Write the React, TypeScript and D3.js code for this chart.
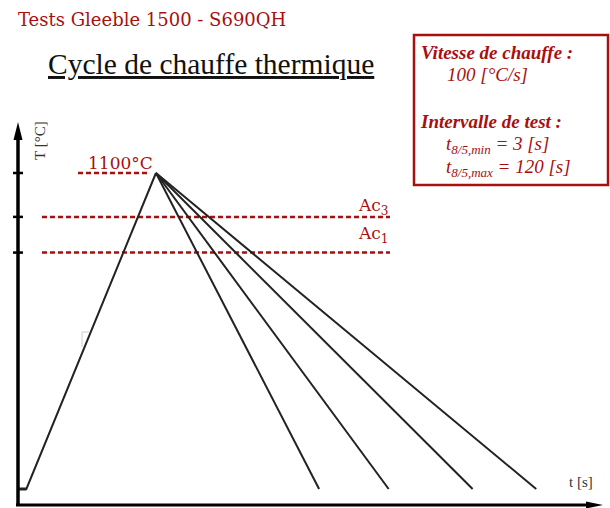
import React from "react";
import * as d3 from "d3";

// Schematic thermal cycle data
const heatStart = { t: 0, T: 20 };
const holdEnd = { t: 0.7, T: 20 };
const peak = { t: 11.5, T: 1100 };
const coolEndTimes = [25.1, 30.9, 37.9, 43.2];
const coolEndTemp = 20;
const refTemps = [
  { name: "1100", T: 1100 },
  { name: "Ac3", T: 950 },
  { name: "Ac1", T: 828 },
];
const title = "Tests Gleeble 1500 - S690QH";
const subtitle = "Cycle de chauffe thermique";

const RED = "#a80f0f";

export default function App() {
  const W = 610, H = 508;
  const x = d3.scaleLinear().domain([0, 48.6]).range([18, 601]);
  const y = d3.scaleLinear().domain([20, 1100]).range([489, 173]);
  const line = d3.line<{ t: number; T: number }>().x(d => x(d.t)).y(d => y(d.T));

  const heating = [heatStart, holdEnd, peak];
  const coolings = coolEndTimes.map(t => [peak, { t, T: coolEndTemp }]);

  const yTop = 122;
  const xAxisY = 505;

  return (
    <svg width={W} height={H} style={{ position: "absolute", left: 0, top: 0, background: "#fff" }}>
      <rect width={W} height={H} fill="#fff" />
      {/* Title */}
      <text x={18} y={26} fontFamily="'DejaVu Serif', 'Liberation Serif', serif" fontSize={18} fill={RED}>{title}</text>
      <text x={48} y={74} fontFamily="'Liberation Serif', serif" fontSize={29.5} fill="#111" textDecoration="underline">{subtitle}</text>

      {/* Info box */}
      <rect x={414} y={35} width={194} height={150} fill="#fff" stroke={RED} strokeWidth={2.5} />
      <g fontFamily="'Liberation Serif', serif" fill={RED} fontStyle="italic">
        <text x={421} y={59} fontSize={19} fontWeight="bold">Vitesse de chauffe :</text>
        <text x={447} y={81} fontSize={19}>100 [°C/s]</text>
        <text x={421} y={128} fontSize={19} fontWeight="bold">Intervalle de test :</text>
        <text x={446} y={150} fontSize={19}>t<tspan fontSize={13} dy={4}>8/5,min</tspan><tspan dy={-4}> = 3 [s]</tspan></text>
        <text x={446} y={173} fontSize={19}>t<tspan fontSize={13} dy={4}>8/5,max</tspan><tspan dy={-4}> = 120 [s]</tspan></text>
      </g>

      {/* Reference dashed lines */}
      <line x1={78} x2={148} y1={y(refTemps[0].T)} y2={y(refTemps[0].T)} stroke={RED} strokeWidth={2.5} strokeDasharray="5,3" />
      <line x1={42} x2={390} y1={y(refTemps[1].T)} y2={y(refTemps[1].T)} stroke={RED} strokeWidth={2.5} strokeDasharray="5,3" />
      <line x1={42} x2={390} y1={y(refTemps[2].T)} y2={y(refTemps[2].T)} stroke={RED} strokeWidth={2.5} strokeDasharray="5,3" />
      <g fontFamily="'DejaVu Serif', serif" fill={RED} fontSize={17}>
        <text x={88} y={y(refTemps[0].T) - 4}>1100°C</text>
        <text x={359} y={y(refTemps[1].T) - 6}>Ac<tspan fontSize={12} dy={4}>3</tspan></text>
        <text x={359} y={y(refTemps[2].T) - 14}>Ac<tspan fontSize={12} dy={4}>1</tspan></text>
      </g>

      {/* faint artifact */}
      <polyline points="82,347 82,332 89,332" fill="none" stroke="#ccc" strokeWidth={1} />

      {/* Curves */}
      <path d={line(heating) || ""} fill="none" stroke="#222" strokeWidth={2} />
      {coolings.map((c, i) => (
        <path key={i} d={line(c) || ""} fill="none" stroke="#222" strokeWidth={2} />
      ))}
      <line x1={18} x2={x(holdEnd.t)} y1={y(20)} y2={y(20)} stroke="#222" strokeWidth={3} />

      {/* Axes */}
      <line x1={18} x2={18} y1={xAxisY + 1} y2={yTop + 12} stroke="#000" strokeWidth={3.5} />
      <path d={`M18,${yTop} L22.5,${yTop + 18} L13.5,${yTop + 18} Z`} fill="#000" />
      <line x1={16} x2={590} y1={xAxisY} y2={xAxisY} stroke="#000" strokeWidth={3} />
      <path d={`M603,${xAxisY} L586,${xAxisY - 3.5} L586,${xAxisY + 3.5} Z`} fill="#000" />
      {refTemps.map((r, i) => (
        <line key={i} x1={13} x2={23} y1={y(r.T)} y2={y(r.T)} stroke="#000" strokeWidth={2.5} />
      ))}

      {/* Axis labels */}
      <text transform="translate(45,160) rotate(-90)" fontFamily="'Liberation Serif', serif" fontSize={15} fill="#333">T [°C]</text>
      <text x={569} y={487} fontFamily="'Liberation Serif', serif" fontSize={15} fill="#333">t [s]</text>
    </svg>
  );
}
